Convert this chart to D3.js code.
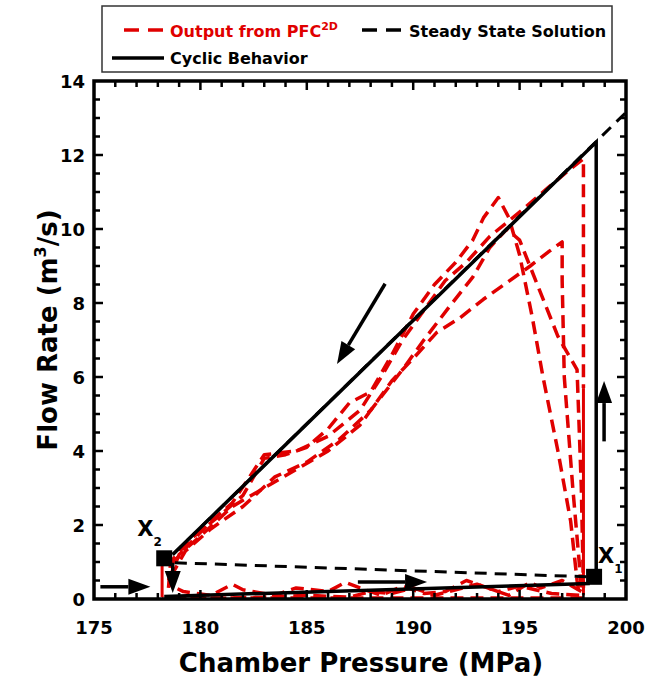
<!DOCTYPE html>
<html>
<head>
<meta charset="utf-8">
<script src="https://cdn.jsdelivr.net/npm/d3@7"></script>
<style>
  body { margin: 0; background: #fff; }
  svg { font-family: "DejaVu Sans", Verdana, sans-serif; font-weight: bold; }
</style>
</head>
<body>
<div id="viz"></div>
<script>
// axis ticks
const xTicks = [175, 180, 185, 190, 195, 200]
const yTicks = [0, 2, 4, 6, 8, 10, 12, 14]

// black lines (pressure MPa, flow m3/s)
const cyclicTop = [[178.7, 1.2], [198.6, 12.35], [198.6, 0.6]]
const cyclicBottom = [[178.3, 0.07], [198.3, 0.42]]
const steadyDiag = [[178.7, 1.2], [200, 13.15]]
const steadyLow = [[178.8, 0.98], [198.2, 0.6]]

// PFC2D output, rising branches
const pfcA = [[178.5, 0.3], [178.6, 1.0], [179.5, 1.6], [181, 2.3], [182, 2.8], [183, 3.8], [184, 3.9], [185, 4.1], [186, 4.6], [187, 5.3], [188, 5.6], [189, 6.6], [190, 7.7], [191, 8.5], [192, 9.1], [192.8, 9.7], [193.3, 10.3], [194, 10.85], [194.5, 10.3], [195, 9.3], [195.6, 7.6], [196.1, 6.0], [196.8, 4.0], [197.4, 2.1], [197.7, 0.5], [197.8, 0.1]]
const pfcB = [[178.5, 0.5], [179, 1.2], [180, 1.7], [181.5, 2.5], [183, 3.0], [184.5, 3.5], [186, 4.0], [187.5, 4.7], [189, 5.9], [190, 6.5], [191.1, 7.2], [192.2, 7.6], [193.3, 8.1], [194.4, 8.55], [195.5, 9.0], [196.4, 9.4], [197, 9.65], [197.0, 8.6], [197.1, 6.0], [197.5, 3.0], [197.8, 1.0], [197.9, 0.2]]
const pfcC = [[178.6, 0.6], [179.3, 1.3], [180.5, 1.9], [182, 2.5], [183.5, 3.3], [185, 3.7], [186.5, 4.3], [188, 5.1], [189.5, 6.2], [190.5, 7.0], [191.7, 7.9], [192.8, 8.7], [193.6, 9.5], [194.4, 10.0], [195.0, 9.7], [195.9, 8.4], [196.8, 7.1], [197.7, 6.2], [197.9, 3.0], [198.0, 0.3]]
const pfcD = [[178.6, 0.9], [179.5, 1.5], [180.5, 2.1], [181.5, 2.6], [183, 3.9], [184.5, 4.0], [186, 4.4], [187.5, 5.1], [188.5, 6.0], [189.5, 7.0], [190.5, 7.8], [191.5, 8.6], [192.5, 9.1], [193.6, 9.8], [195.2, 10.55], [196.3, 11.1], [197.4, 11.63], [198.0, 11.9], [198.0, 5.7]]
// PFC2D output, return branches along the bottom
const pfcE = [[197.8, 0.1], [196.5, 0.15], [195, 0.35], [194, 0.2], [193, 0.4], [192, 0.25], [191, 0.1], [190, 0.3], [189, 0.15], [188, 0.2], [187, 0.05], [185, 0.1], [183, 0.05], [181, 0.02], [179, 0.03], [178.4, 0.05]]
const pfcF = [[198, 0.03], [178.2, 0.03]]
const pfcG = [[197.9, 0.2], [197, 0.5], [196, 0.3], [195.5, 0.45], [194.5, 0.1], [193.5, 0.3], [192.5, 0.5], [191.5, 0.2], [190.5, 0.15], [189.5, 0.35], [188.5, 0.1], [187.5, 0.3], [186.8, 0.45], [186, 0.2], [184.5, 0.3], [183.5, 0.1], [182, 0.25], [181.5, 0.4], [180.5, 0.1], [179.2, 0.2], [178.5, 0.4]]
const pfcSolid = [[[178.2, 0.05], [178.2, 1.0]], [[198.0, 5.7], [198.0, 0.1]]]

// state points and direction arrows
const points = [{ name: "X", sub: "2", p: [178.3, 1.1] }, { name: "X", sub: "1", p: [198.5, 0.6] }]
const arrows = [
    [[175.3, 0.33], [177.65, 0.33]],
    [[178.7, 0.98], [178.7, 0.16]],
    [[187.4, 0.46], [190.65, 0.46]],
    [[198.97, 4.26], [198.97, 5.89]],
    [[188.68, 8.52], [186.42, 6.35]]
]

const W = 646, H = 678
const red = "#e00000"

const svg = d3.select("#viz").append("svg").attr("width", W).attr("height", H)

const x = d3.scaleLinear().domain([175, 200]).range([94, 626])
const y = d3.scaleLinear().domain([0, 14]).range([599, 81])

// legend
const lg = svg.append("g")
lg.append("rect").attr("x", 102).attr("y", 6).attr("width", 510).attr("height", 66)
    .attr("fill", "#fff").attr("stroke", "#333").attr("stroke-width", 1.5)
lg.append("line").attr("x1", 124).attr("x2", 163).attr("y1", 30).attr("y2", 30)
    .attr("stroke", red).attr("stroke-width", 3.5).attr("stroke-dasharray", "15,9")
const t1 = lg.append("text").attr("x", 170).attr("y", 37).attr("fill", red).attr("font-size", 16)
t1.append("tspan").text("Output from PFC")
t1.append("tspan").text("2D").attr("font-size", 11).attr("dy", -7)
lg.append("line").attr("x1", 362).attr("x2", 401).attr("y1", 30).attr("y2", 30)
    .attr("stroke", "#000").attr("stroke-width", 3.5).attr("stroke-dasharray", "15,9")
lg.append("text").attr("x", 409).attr("y", 37).attr("font-size", 16).text("Steady State Solution")
lg.append("line").attr("x1", 112).attr("x2", 164).attr("y1", 58).attr("y2", 58)
    .attr("stroke", "#000").attr("stroke-width", 3.5)
lg.append("text").attr("x", 170).attr("y", 64).attr("font-size", 16).text("Cyclic Behavior")

// clip
svg.append("clipPath").attr("id", "clip").append("rect")
    .attr("x", x(175)).attr("y", y(14)).attr("width", x(200) - x(175)).attr("height", y(0) - y(14))

const line = d3.line().x(d => x(d[0])).y(d => y(d[1]))
const plot = svg.append("g").attr("clip-path", "url(#clip)")

const redDashed = [pfcE, pfcF, pfcG, pfcB, pfcC, pfcA, pfcD]
plot.selectAll("path.pfc").data(redDashed).join("path").attr("class", "pfc")
    .attr("d", line).attr("fill", "none").attr("stroke", red).attr("stroke-width", 3.5)
    .attr("stroke-dasharray", "13,7").attr("stroke-linejoin", "round")
plot.selectAll("path.pfcs").data(pfcSolid).join("path").attr("class", "pfcs")
    .attr("d", line).attr("fill", "none").attr("stroke", red).attr("stroke-width", 3)

plot.selectAll("path.steady").data([steadyDiag, steadyLow]).join("path").attr("class", "steady")
    .attr("d", line).attr("fill", "none").attr("stroke", "#000").attr("stroke-width", 3)
    .attr("stroke-dasharray", "12,8")
plot.selectAll("path.cyc").data([cyclicTop, cyclicBottom]).join("path").attr("class", "cyc")
    .attr("d", line).attr("fill", "none").attr("stroke", "#000").attr("stroke-width", 3.5)

// arrows
arrows.forEach(a => {
    const x0 = x(a[0][0]), y0 = y(a[0][1]), x1 = x(a[1][0]), y1 = y(a[1][1])
    const ang = Math.atan2(y1 - y0, x1 - x0)
    const L = 22, hw = 8
    const bx = x1 - L * Math.cos(ang), by = y1 - L * Math.sin(ang)
    plot.append("line").attr("x1", x0).attr("y1", y0).attr("x2", bx).attr("y2", by)
        .attr("stroke", "#000").attr("stroke-width", 3.5)
    const pts = [[x1, y1],
        [bx + hw * Math.sin(ang), by - hw * Math.cos(ang)],
        [bx - hw * Math.sin(ang), by + hw * Math.cos(ang)]]
    plot.append("polygon").attr("points", pts.map(p => p.join(",")).join(" ")).attr("fill", "#000")
})

// state points
points.forEach((d, i) => {
    const cx = x(d.p[0]), cy = y(d.p[1])
    svg.append("rect").attr("x", cx - 8).attr("y", cy - 8).attr("width", 16).attr("height", 16).attr("fill", "#000")
    const lx = i === 0 ? cx - 27 : cx + 4
    const ly = i === 0 ? cy - 22 : cy - 14
    const t = svg.append("text").attr("x", lx).attr("y", ly).attr("font-size", 21)
    t.append("tspan").text(d.name)
    t.append("tspan").text(d.sub).attr("font-size", 12).attr("dy", 10)
})

// frame and ticks
const fr = svg.append("g")
fr.append("rect").attr("x", x(175)).attr("y", y(14)).attr("width", x(200) - x(175)).attr("height", y(0) - y(14))
    .attr("fill", "none").attr("stroke", "#000").attr("stroke-width", 3.5)

const xMinor = d3.range(176, 200, 1)
const yMinor = d3.range(0.5, 14, 0.5)
xMinor.forEach(v => {
    const len = v % 5 === 0 ? 9 : 6
    fr.append("line").attr("x1", x(v)).attr("x2", x(v)).attr("y1", y(0)).attr("y2", y(0) - len).attr("stroke", "#000").attr("stroke-width", 2.5)
    fr.append("line").attr("x1", x(v)).attr("x2", x(v)).attr("y1", y(14)).attr("y2", y(14) + len).attr("stroke", "#000").attr("stroke-width", 2.5)
})
yMinor.forEach(v => {
    const len = v % 2 === 0 ? 9 : 6
    fr.append("line").attr("y1", y(v)).attr("y2", y(v)).attr("x1", x(175)).attr("x2", x(175) + len).attr("stroke", "#000").attr("stroke-width", 2.5)
    fr.append("line").attr("y1", y(v)).attr("y2", y(v)).attr("x1", x(200)).attr("x2", x(200) - len).attr("stroke", "#000").attr("stroke-width", 2.5)
})

// tick labels
svg.selectAll("text.xt").data(xTicks).join("text").attr("class", "xt")
    .attr("x", d => x(d)).attr("y", 634).attr("text-anchor", "middle").attr("font-size", 18).text(d => d)
svg.selectAll("text.yt").data(yTicks).join("text").attr("class", "yt")
    .attr("x", 85).attr("y", d => y(d) + 6.5).attr("text-anchor", "end").attr("font-size", 18).text(d => d)

// axis titles
svg.append("text").attr("x", 361).attr("y", 672).attr("text-anchor", "middle").attr("font-size", 26)
    .text("Chamber Pressure (MPa)")
const yt = svg.append("text").attr("transform", "translate(57,330) rotate(-90)")
    .attr("text-anchor", "middle").attr("font-size", 26)
yt.append("tspan").text("Flow Rate (m")
yt.append("tspan").text("3").attr("font-size", 16).attr("dy", -11)
yt.append("tspan").text("/s)").attr("dy", 11)
</script>
</body>
</html>
